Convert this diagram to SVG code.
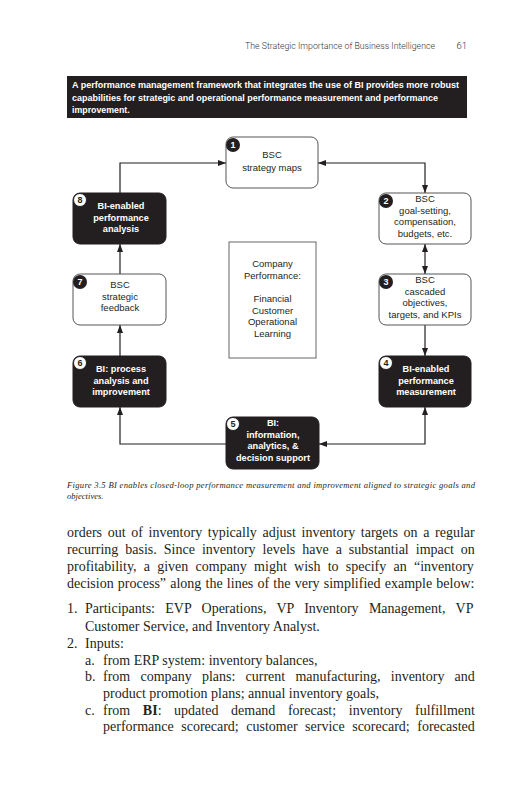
<svg xmlns="http://www.w3.org/2000/svg" width="531" height="800" viewBox="0 0 531 800">
<style>
.hdr{font-family:Roboto,"Liberation Sans",sans-serif;font-size:9.5px;font-weight:300;fill:#333}
.bar{fill:#231f20}
.bart{font-family:"Liberation Sans",Arial,sans-serif;font-size:8.8px;font-weight:bold;fill:#fff}
.wn{fill:#fff;stroke:#555;stroke-width:1}
.dn{fill:#231f20;stroke:#231f20;stroke-width:1}
.wt{font-family:"Liberation Sans",Arial,sans-serif;font-size:9.5px;fill:#231f20;text-anchor:middle}
.dt{font-family:"Liberation Sans",Arial,sans-serif;font-size:9.2px;font-weight:bold;fill:#fff;text-anchor:middle}
.bb{fill:#231f20}
.bw{fill:#fff;stroke:#231f20;stroke-width:1}
.bnw{font-family:"Liberation Sans",Arial,sans-serif;font-size:9px;font-weight:bold;fill:#fff;text-anchor:middle}
.bnb{font-family:"Liberation Sans",Arial,sans-serif;font-size:9px;font-weight:bold;fill:#231f20;text-anchor:middle}
.con{fill:none;stroke:#231f20;stroke-width:1.2}
.cap{font-family:"Liberation Serif","Times New Roman",serif;font-size:8.6px;font-style:italic;fill:#231f20}
.body{font-family:"Liberation Serif","Times New Roman",serif;font-size:14px;fill:#231f20}
</style>
<defs>
<marker id="ah" markerWidth="8" markerHeight="6" refX="8" refY="3" orient="auto-start-reverse" markerUnits="userSpaceOnUse">
<path d="M0,0 L8,3 L0,6 z" fill="#231f20"/>
</marker>
</defs>
<rect width="531" height="800" fill="#fff"/>

<g id="header">
<text class="hdr" x="245" y="49" textLength="190" lengthAdjust="spacingAndGlyphs">The Strategic Importance of Business Intelligence</text>
<text class="hdr" x="467" y="49" text-anchor="end">61</text>
</g>

<g id="titlebar">
<rect class="bar" x="67" y="76" width="400" height="42"/>
<text class="bart" x="72" y="88" textLength="387" lengthAdjust="spacingAndGlyphs">A performance management framework that integrates the use of BI provides more robust</text>
<text class="bart" x="72" y="100.5" textLength="366" lengthAdjust="spacingAndGlyphs">capabilities for strategic and operational performance measurement and performance</text>
<text class="bart" x="72" y="113">improvement.</text>
</g>

<g id="connectors">
<path class="con" d="M120,193 V163 H226" marker-end="url(#ah)"/>
<path class="con" d="M425,193 V163 H318" marker-start="url(#ah)" marker-end="url(#ah)"/>
<path class="con" d="M425,244 V274" marker-start="url(#ah)" marker-end="url(#ah)"/>
<path class="con" d="M425,325 V356" marker-end="url(#ah)"/>
<path class="con" d="M425,407 V444 H319" marker-start="url(#ah)" marker-end="url(#ah)"/>
<path class="con" d="M226,444 H120 V407" marker-end="url(#ah)"/>
<path class="con" d="M120,356 V325" marker-end="url(#ah)"/>
<path class="con" d="M120,274 V244" marker-end="url(#ah)"/>
</g>

<g id="node1">
<rect class="wn" x="226" y="137" width="92" height="51" rx="7"/>
<circle class="bb" cx="233" cy="145" r="7"/>
<text class="bnw" x="233" y="148.3">1</text>
<text class="wt" x="272" y="158">BSC</text>
<text class="wt" x="272" y="170.5">strategy maps</text>
</g>

<g id="node2">
<rect class="wn" x="379" y="193" width="92" height="51" rx="7"/>
<circle class="bb" cx="386" cy="201" r="7"/>
<text class="bnw" x="386" y="204.3">2</text>
<text class="wt" x="425" y="202">BSC</text>
<text class="wt" x="425" y="213.5">goal-setting,</text>
<text class="wt" x="425" y="225">compensation,</text>
<text class="wt" x="425" y="236.5">budgets, etc.</text>
</g>

<g id="node3">
<rect class="wn" x="379" y="274" width="92" height="51" rx="7"/>
<circle class="bb" cx="386" cy="282" r="7"/>
<text class="bnw" x="386" y="285.3">3</text>
<text class="wt" x="425" y="283">BSC</text>
<text class="wt" x="425" y="294.5">cascaded</text>
<text class="wt" x="425" y="306">objectives,</text>
<text class="wt" x="425" y="317.5">targets, and KPIs</text>
</g>

<g id="node4">
<rect class="dn" x="379" y="356" width="92" height="51" rx="7"/>
<circle class="bw" cx="386" cy="363" r="6.5"/>
<text class="bnb" x="386" y="366.3">4</text>
<text class="dt" x="426" y="372">BI-enabled</text>
<text class="dt" x="426" y="383.5">performance</text>
<text class="dt" x="426" y="395">measurement</text>
</g>

<g id="node5">
<rect class="dn" x="226" y="417" width="93" height="52" rx="7"/>
<circle class="bw" cx="233" cy="424" r="6.5"/>
<text class="bnb" x="233" y="427.3">5</text>
<text class="dt" x="273" y="426">BI:</text>
<text class="dt" x="273" y="437.5">information,</text>
<text class="dt" x="273" y="449">analytics, &amp;</text>
<text class="dt" x="273" y="460.5">decision support</text>
</g>

<g id="node6">
<rect class="dn" x="73" y="356" width="93" height="51" rx="7"/>
<circle class="bw" cx="80" cy="363" r="6.5"/>
<text class="bnb" x="80" y="366.3">6</text>
<text class="dt" x="121" y="372">BI: process</text>
<text class="dt" x="121" y="383.5">analysis and</text>
<text class="dt" x="121" y="395">improvement</text>
</g>

<g id="node7">
<rect class="wn" x="73" y="274" width="93" height="51" rx="7"/>
<circle class="bb" cx="80" cy="282" r="7"/>
<text class="bnw" x="80" y="285.3">7</text>
<text class="wt" x="120" y="288">BSC</text>
<text class="wt" x="120" y="299.5">strategic</text>
<text class="wt" x="120" y="311">feedback</text>
</g>

<g id="node8">
<rect class="dn" x="73" y="193" width="93" height="51" rx="7"/>
<circle class="bw" cx="80" cy="200" r="6.5"/>
<text class="bnb" x="80" y="203.3">8</text>
<text class="dt" x="121" y="209">BI-enabled</text>
<text class="dt" x="121" y="220.5">performance</text>
<text class="dt" x="121" y="232">analysis</text>
</g>

<g id="center">
<rect x="229" y="242" width="87" height="116" fill="#fff" stroke="#666" stroke-width="1"/>
<text class="wt" x="272.5" y="267">Company</text>
<text class="wt" x="272.5" y="278.5">Performance:</text>
<text class="wt" x="272.5" y="302">Financial</text>
<text class="wt" x="272.5" y="313.5">Customer</text>
<text class="wt" x="272.5" y="325">Operational</text>
<text class="wt" x="272.5" y="336.5">Learning</text>
</g>

<g id="caption">
<text class="cap" x="67" y="488" textLength="408" lengthAdjust="spacing">Figure 3.5 BI enables closed-loop performance measurement and improvement aligned to strategic goals and</text>
<text class="cap" x="67" y="499">objectives.</text>
</g>

<g id="bodytext">
<text class="body" x="67" y="537" word-spacing="2.15">orders out of inventory typically adjust inventory targets on a regular</text>
<text class="body" x="67" y="554" word-spacing="3.5">recurring basis. Since inventory levels have a substantial impact on</text>
<text class="body" x="67" y="571" word-spacing="3.75">profitability, a given company might wish to specify an “inventory</text>
<text class="body" x="67" y="587.5" word-spacing="0.7">decision process” along the lines of the very simplified example below:</text>
<text class="body" x="67" y="613">1.</text>
<text class="body" x="85" y="613" word-spacing="6.8">Participants: EVP Operations, VP Inventory Management, VP</text>
<text class="body" x="85" y="631">Customer Service, and Inventory Analyst.</text>
<text class="body" x="67" y="648">2.</text>
<text class="body" x="85" y="648">Inputs:</text>
<text class="body" x="85" y="665">a.</text>
<text class="body" x="103" y="665">from ERP system: inventory balances,</text>
<text class="body" x="85" y="681">b.</text>
<text class="body" x="103" y="681" word-spacing="6.7">from company plans: current manufacturing, inventory and</text>
<text class="body" x="103" y="698">product promotion plans; annual inventory goals,</text>
<text class="body" x="85" y="715">c.</text>
<text class="body" x="103" y="715" word-spacing="9.1">from <tspan font-weight="bold">BI</tspan>: updated demand forecast; inventory fulfillment</text>
<text class="body" x="103" y="731" word-spacing="4">performance scorecard; customer service scorecard; forecasted</text>
</g>
</svg>
